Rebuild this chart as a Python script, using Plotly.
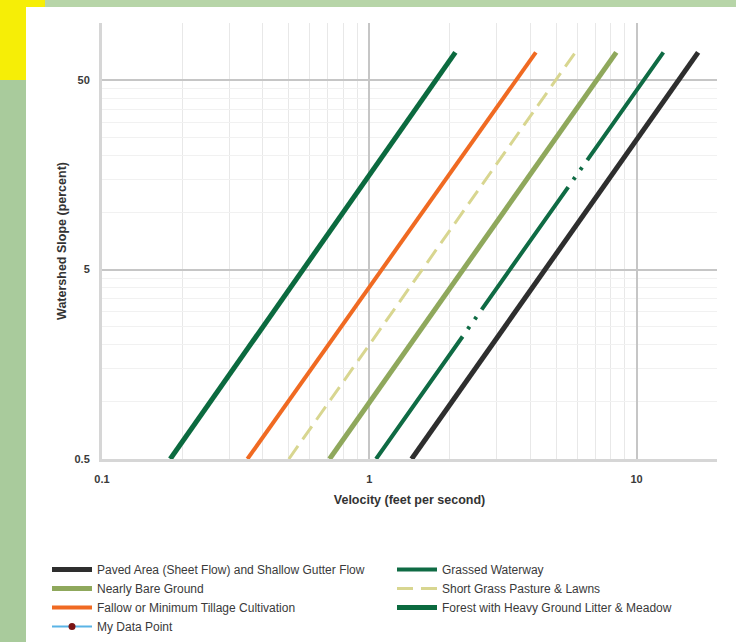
import plotly.graph_objects as go

# ---- data ----
slope_pct = [0.5, 70]                      # watershed slope (percent), line ends
paved_v = [1.44, 17.0]                     # Paved Area (Sheet Flow) and Shallow Gutter Flow
grassed_v = [1.06, 12.6]                   # Grassed Waterway
bare_v = [0.71, 8.4]                       # Nearly Bare Ground
shortgrass_v = [0.50, 5.9]                 # Short Grass Pasture & Lawns
fallow_v = [0.35, 4.2]                     # Fallow or Minimum Tillage Cultivation
forest_v = [0.18, 2.1]                     # Forest with Heavy Ground Litter & Meadow

x_ticks = [0.1, 1, 10]
x_ticklabels = ["0.1", "1", "10"]
y_ticks = [0.5, 5, 50]
y_ticklabels = ["0.5", "5", "50"]
x_minor = [0.2, 0.3, 0.4, 0.5, 0.6, 0.7, 0.8, 0.9, 2, 3, 4, 5, 6, 7, 8, 9, 20]
y_minor = [1, 1.5, 2, 2.5, 3, 3.5, 4, 4.5, 10, 15, 20, 25, 30, 35, 40, 45]

W, H = 736, 642
L, R, T, B = 102, 19, 23, 183
PW, PH = W - L - R, H - T - B


def px(xp):
    return (xp - L) / PW


def py(yp):
    return (H - B - yp) / PH


fig = go.Figure()

fig.add_trace(go.Scatter(x=paved_v, y=slope_pct, mode="lines", legend="legend",
                         name="Paved Area (Sheet Flow) and Shallow Gutter Flow",
                         line=dict(color="#2e2e2e", width=5)))
fig.add_trace(go.Scatter(x=grassed_v, y=slope_pct, mode="lines", legend="legend2",
                         name="Grassed Waterway",
                         line=dict(color="#0f6b44", width=4,
                                   dash="150px,9px,3px,9px,3px,9px")))
fig.add_trace(go.Scatter(x=bare_v, y=slope_pct, mode="lines", legend="legend",
                         name="Nearly Bare Ground",
                         line=dict(color="#8fa85c", width=5)))
fig.add_trace(go.Scatter(x=shortgrass_v, y=slope_pct, mode="lines", legend="legend2",
                         name="Short Grass Pasture & Lawns",
                         line=dict(color="#d8d690", width=3, dash="16px,8px")))
fig.add_trace(go.Scatter(x=fallow_v, y=slope_pct, mode="lines", legend="legend",
                         name="Fallow or Minimum Tillage Cultivation",
                         line=dict(color="#f06a22", width=4)))
fig.add_trace(go.Scatter(x=forest_v, y=slope_pct, mode="lines", legend="legend2",
                         name="Forest with Heavy Ground Litter & Meadow",
                         line=dict(color="#0b6a3f", width=5)))
fig.add_trace(go.Scatter(x=[None], y=[None], mode="lines+markers", legend="legend",
                         name="My Data Point",
                         line=dict(color="#5ab4e6", width=2),
                         marker=dict(color="#7a1414", size=7)))

axis_font = dict(family="Liberation Sans, Arial, sans-serif", size=11, color="#3a3a3a", weight="bold")
title_font = dict(family="Liberation Sans, Arial, sans-serif", size=12.5, color="#333333", weight="bold")

fig.update_xaxes(type="log", range=[-1, 1.30103],
                 tickvals=x_ticks, ticktext=x_ticklabels, tickfont=axis_font,
                 ticklabelstandoff=8,
                 showgrid=True, gridcolor="#c6c6c6", gridwidth=1.5,
                 minor=dict(tickvals=x_minor, showgrid=True, gridcolor="#e8e8e8", gridwidth=1),
                 showline=True, linecolor="#d6d6d6", linewidth=3,
                 ticks="", zeroline=False,
                 title=dict(text="Velocity (feet per second)", font=title_font, standoff=12))
fig.update_yaxes(type="log", range=[-0.30103, 2],
                 tickvals=y_ticks, ticktext=y_ticklabels, tickfont=axis_font,
                 ticklabelstandoff=7,
                 showgrid=True, gridcolor="#c6c6c6", gridwidth=1.5,
                 minor=dict(tickvals=y_minor, showgrid=True, gridcolor="#f1f1f1", gridwidth=1),
                 showline=True, linecolor="#d6d6d6", linewidth=3,
                 ticks="", zeroline=False,
                 title=dict(text="Watershed Slope (percent)", font=title_font, standoff=6))

green = "#a9cb9c"
yellow = "#f6ee06"
shapes = [
    dict(type="rect", xref="paper", yref="paper", x0=px(0), x1=px(26), y0=py(H), y1=py(0),
         fillcolor=green, line=dict(width=0)),
    dict(type="rect", xref="paper", yref="paper", x0=px(0), x1=px(W), y0=py(7), y1=py(0),
         fillcolor="#b7d5a8", line=dict(width=0)),
    dict(type="rect", xref="paper", yref="paper", x0=px(0), x1=px(26), y0=py(80), y1=py(0),
         fillcolor=yellow, line=dict(width=0)),
    dict(type="rect", xref="paper", yref="paper", x0=px(26), x1=px(45), y0=py(7), y1=py(0),
         fillcolor=yellow, line=dict(width=0)),
]

legend_font = dict(family="Liberation Sans, Arial, sans-serif", size=12, color="#3a3a3a")
common_legend = dict(orientation="v", xref="paper", yref="container",
                     xanchor="left", yanchor="top", itemwidth=40,
                     font=legend_font, bgcolor="rgba(0,0,0,0)", tracegroupgap=0)

fig.update_layout(
    width=W, height=H,
    margin=dict(l=L, r=R, t=T, b=B),
    paper_bgcolor="white", plot_bgcolor="white",
    shapes=shapes,
    showlegend=True,
    legend=dict(common_legend, x=px(47), y=1 - 555 / H),
    legend2=dict(common_legend, x=px(392), y=1 - 555 / H),
)

fig.write_html("out.html", config={"displayModeBar": False},
               post_script="document.body.style.margin='0px';")
